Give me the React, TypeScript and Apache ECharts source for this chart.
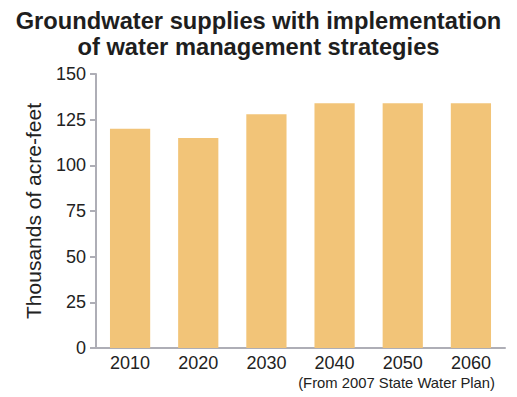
import React, { useEffect, useRef } from "react";
import * as echarts from "echarts";

const categories = ["2010", "2020", "2030", "2040", "2050", "2060"];
const values = [120, 115, 128, 134, 134, 134];
const yTicks = [0, 25, 50, 75, 100, 125, 150];

export default function App() {
  const ref = useRef<HTMLDivElement>(null);
  useEffect(() => {
    const chart = echarts.init(ref.current!, null, { renderer: "svg" });
    const font = "'Liberation Sans', Arial, sans-serif";
    chart.setOption({
      animation: false,
      title: {
        text: "Groundwater supplies with implementation\nof water management strategies",
        left: "center",
        top: 3,
        textStyle: { fontFamily: font, fontWeight: "bold", fontSize: 23.7, color: "#1e1e1e", lineHeight: 26 },
      },
      graphic: [
        {
          type: "text",
          right: 22,
          top: 375,
          style: { text: "(From 2007 State Water Plan)", fontFamily: font, fontSize: 14.8, fill: "#222" },
        },
        {
          type: "text",
          x: 33,
          y: 211,
          rotation: Math.PI / 2,
          style: {
            text: "Thousands of acre-feet",
            fontFamily: font,
            fontSize: 21,
            fill: "#222",
            align: "center",
            verticalAlign: "middle",
          },
        },
      ],
      grid: { left: 96, right: 12, top: 74, bottom: 49 },
      xAxis: {
        type: "category",
        data: categories,
        axisLine: { lineStyle: { color: "#aeaeb6", width: 2 } },
        axisTick: { show: false },
        axisLabel: { fontFamily: font, fontSize: 18, color: "#222", margin: 6 },
      },
      yAxis: {
        type: "value",
        min: yTicks[0],
        max: yTicks[yTicks.length - 1],
        interval: 25,
        axisLine: { show: true, lineStyle: { color: "#aeaeb6", width: 2 } },
        axisTick: { show: true, length: 6, lineStyle: { color: "#aeaeb6", width: 2 } },
        splitLine: { show: false },
        axisLabel: { fontFamily: font, fontSize: 18, color: "#222", margin: 10 },
      },
      series: [
        {
          type: "bar",
          data: values,
          barWidth: "59%",
          itemStyle: { color: "#f2c478" },
        },
      ],
    });
    return () => chart.dispose();
  }, []);
  return <div ref={ref} style={{ width: 517, height: 397, position: "absolute", left: 0, top: 0 }} />;
}
